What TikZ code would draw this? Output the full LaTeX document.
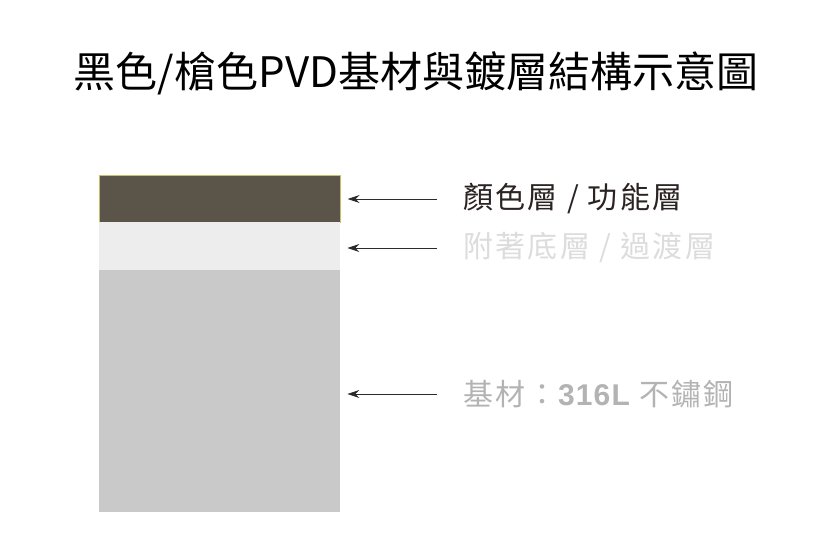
\documentclass[tikz,border=0pt]{standalone}
\usepackage{fontspec}
\setmainfont{Noto Sans CJK TC}
\newfontfamily\lblfont[LetterSpace=8]{Noto Sans CJK TC}
\newfontfamily\numfont[LetterSpace=4]{Liberation Sans}
\usetikzlibrary{arrows.meta}
\usetikzlibrary{positioning}
\definecolor{pvddark}{HTML}{5A5548}
\definecolor{pvdedge}{HTML}{C8C070}
\definecolor{pvdmid}{HTML}{EDEDED}
\definecolor{pvdbase}{HTML}{C8C9C8}
\definecolor{txtdark}{HTML}{2B2222}
\definecolor{txtlight}{HTML}{DCDCDC}
\definecolor{txtbase}{HTML}{B3B3B3}
\definecolor{arrowc}{HTML}{2E2A2A}

\tikzset{
  layer/.style={rectangle, inner sep=0pt, anchor=north west, minimum width=241pt},
  lbl/.style={anchor=west, inner sep=0pt, font=\lblfont\fontsize{30}{30}\selectfont},
  pointer/.style={arrowc, line width=0.9pt, -{Stealth[length=12pt, width=8pt]},
    shorten <=26pt, shorten >=7pt}
}

\begin{document}
\begin{tikzpicture}[x=1pt, y=-1pt]
    \useasboundingbox (0, 0) rectangle (839, 557);

    \node (title) at (416, 73) {\fontsize{42}{42}\selectfont 黑色/槍色PVD基材與鍍層結構示意圖};

    % the three layers
    \node [layer, fill=pvddark, draw=pvdedge, line width=0.6pt, minimum height=47pt] (coat) at (99, 175) {};
    \node [layer, fill=pvdmid, minimum height=48pt] (bond) at (99, 222) {};
    \node [layer, fill=pvdbase, minimum height=242pt] (base) at (99, 270) {};

    % labels
    \node [lbl, txtdark] (coatlbl) at (463, 199) {顏色層 / 功能層};
    \node [lbl, txtlight] (bondlbl) at (463, 248) {附著底層 / 過渡層};
    \node [lbl, txtbase] (baselbl) at (463, 394) {基材：{\numfont\bfseries 316L} 不鏽鋼};

    \draw [pointer] (coatlbl.west) -- (coatlbl.west -| coat.east);
    \draw [pointer] (bondlbl.west) -- (bondlbl.west -| bond.east);
    \draw [pointer] (baselbl.west) -- (baselbl.west -| base.east);
\end{tikzpicture}
\end{document}
